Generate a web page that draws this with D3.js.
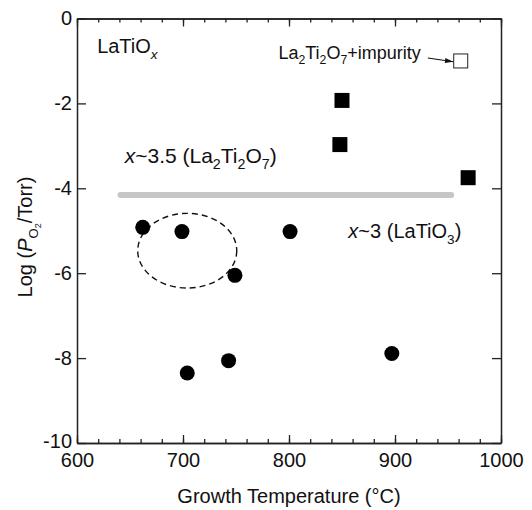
<!DOCTYPE html>
<html>
<head>
<meta charset="utf-8">
<script src="https://cdn.jsdelivr.net/npm/d3@7"></script>
<style>
  body { margin: 0; background: #fff; }
  text { font-family: "Liberation Sans", Arial, sans-serif; fill: #111; }
</style>
</head>
<body>
<div id="chart"></div>
<script>
// growth temperature (°C) and log(PO2/Torr)
const circleTemp = [662, 699, 801, 749, 897, 743, 704];
const circleLogP = [-4.92, -5.02, -5.02, -6.05, -7.89, -8.06, -8.35];
const squareTemp = [850, 848, 969];
const squareLogP = [-1.93, -2.97, -3.75];
const openTemp = [962];
const openLogP = [-1.0];

const xTicks = [600, 700, 800, 900, 1000];
const xMinorTicks = d3.range(600, 1001, 20);
const yTicks = [0, -2, -4, -6, -8, -10];

// boundary between x~3.5 and x~3
const boundaryTemp = [641, 953];
const boundaryLogP = [-4.16, -4.16];

// dashed ellipse: centre and half-axes
const ellipseCentre = [704, -5.47];
const ellipseHalf = [46.7, 0.88];

const w = 532;
const h = 510;
const margin = {top: 18.5, right: 31, bottom: 67, left: 77};

const svg = d3.select("#chart")
              .append("svg")
              .attr("width", w)
              .attr("height", h);

const xScale = d3.scaleLinear()
                 .domain([600, 1000])
                 .range([margin.left, w - margin.right]);

const yScale = d3.scaleLinear()
                 .domain([-10, 0])
                 .range([h - margin.bottom, margin.top]);

const fmt = d => String(d);

// axes, ticks pointing inward
function axisStyle(g) {
  g.selectAll("path.domain").attr("stroke", "#222").attr("stroke-width", 1.5);
  g.selectAll(".tick line").attr("stroke", "#222").attr("stroke-width", 1.3);
  g.selectAll(".tick text")
   .style("font-family", "'Liberation Sans', Arial, sans-serif")
   .attr("font-size", 20)
   .attr("fill", "#111");
}

svg.append("g")
   .attr("transform", `translate(0, ${h - margin.bottom})`)
   .call(d3.axisBottom(xScale).tickValues(xMinorTicks).tickSize(-4).tickSizeOuter(0).tickFormat(""))
   .call(axisStyle);

svg.append("g")
   .attr("id", "x-axis")
   .attr("transform", `translate(0, ${h - margin.bottom})`)
   .call(d3.axisBottom(xScale).tickValues(xTicks).tickSize(-8).tickSizeOuter(0).tickPadding(10).tickFormat(fmt))
   .call(axisStyle);

svg.append("g")
   .attr("transform", `translate(0, ${margin.top})`)
   .call(d3.axisTop(xScale).tickValues(xMinorTicks).tickSize(-4).tickSizeOuter(0).tickFormat(""))
   .call(axisStyle);

svg.append("g")
   .attr("transform", `translate(0, ${margin.top})`)
   .call(d3.axisTop(xScale).tickValues(xTicks).tickSize(-8).tickSizeOuter(0).tickFormat(""))
   .call(axisStyle);

svg.append("g")
   .attr("id", "y-axis")
   .attr("transform", `translate(${margin.left}, 0)`)
   .call(d3.axisLeft(yScale).tickValues(yTicks).tickSize(-9).tickSizeOuter(0).tickPadding(5).tickFormat(fmt))
   .call(axisStyle);

svg.append("g")
   .attr("transform", `translate(${w - margin.right}, 0)`)
   .call(d3.axisRight(yScale).tickValues(yTicks).tickSize(-9).tickSizeOuter(0).tickFormat(""))
   .call(axisStyle);

// "-10" sits a little above the corner so it clears "600"
svg.select("#y-axis").selectAll(".tick text")
   .filter(d => d === -10)
   .attr("dy", "0.2em");

// boundary band
svg.append("line")
   .attr("x1", xScale(boundaryTemp[0]))
   .attr("x2", xScale(boundaryTemp[1]))
   .attr("y1", yScale(boundaryLogP[0]))
   .attr("y2", yScale(boundaryLogP[1]))
   .attr("stroke", "#c6c6c6")
   .attr("stroke-width", 6)
   .attr("stroke-linecap", "round");

// dashed ellipse
svg.append("ellipse")
   .attr("cx", xScale(ellipseCentre[0]))
   .attr("cy", yScale(ellipseCentre[1]))
   .attr("rx", xScale(ellipseCentre[0] + ellipseHalf[0]) - xScale(ellipseCentre[0]))
   .attr("ry", yScale(ellipseCentre[1]) - yScale(ellipseCentre[1] + ellipseHalf[1]))
   .attr("fill", "none")
   .attr("stroke", "#111")
   .attr("stroke-width", 1.4)
   .attr("stroke-dasharray", "6,4");

// points
svg.selectAll("circle.pt")
   .data(d3.zip(circleTemp, circleLogP))
   .enter()
   .append("circle")
   .attr("class", "pt")
   .attr("cx", d => xScale(d[0]))
   .attr("cy", d => yScale(d[1]))
   .attr("r", 7.5)
   .attr("fill", "#000");

const sq = 15;
svg.selectAll("rect.sq")
   .data(d3.zip(squareTemp, squareLogP))
   .enter()
   .append("rect")
   .attr("class", "sq")
   .attr("x", d => xScale(d[0]) - sq / 2)
   .attr("y", d => yScale(d[1]) - sq / 2)
   .attr("width", sq)
   .attr("height", sq)
   .attr("fill", "#000");

const osq = 14;
svg.selectAll("rect.osq")
   .data(d3.zip(openTemp, openLogP))
   .enter()
   .append("rect")
   .attr("class", "osq")
   .attr("x", d => xScale(d[0]) - osq / 2)
   .attr("y", d => yScale(d[1]) - osq / 2)
   .attr("width", osq)
   .attr("height", osq)
   .attr("fill", "#fff")
   .attr("stroke", "#222")
   .attr("stroke-width", 1);

// arrow to the open square
svg.append("defs").append("marker")
   .attr("id", "arrow")
   .attr("viewBox", "0 0 10 6")
   .attr("refX", 10)
   .attr("refY", 3)
   .attr("markerWidth", 9)
   .attr("markerHeight", 5)
   .attr("markerUnits", "userSpaceOnUse")
   .attr("orient", "auto")
   .append("path")
   .attr("d", "M0,0L10,3L0,6Z")
   .attr("fill", "#111");

svg.append("line")
   .attr("x1", xScale(931))
   .attr("y1", yScale(-0.93))
   .attr("x2", xScale(955))
   .attr("y2", yScale(-1.02))
   .attr("stroke", "#111")
   .attr("stroke-width", 1.1)
   .attr("marker-end", "url(#arrow)");

// labels with subscripts
function label(x, y, parts, size) {
  const t = svg.append("text")
               .attr("x", xScale(x))
               .attr("y", yScale(y))
               .attr("font-size", size);
  parts.forEach(p => {
    const s = t.append("tspan").text(p.t);
    if (p.sub) s.attr("font-size", size * 0.68).attr("dy", size * 0.3);
    if (p.up) s.attr("dy", -size * 0.3);
    if (p.it) s.attr("font-style", "italic");
  });
  return t;
}

label(619, -0.81, [{t: "LaTiO"}, {t: "x", sub: true, it: true}], 20);

label(790, -0.95, [
  {t: "La"}, {t: "2", sub: true}, {t: "Ti", up: true}, {t: "2", sub: true},
  {t: "O", up: true}, {t: "7", sub: true}, {t: "+impurity", up: true}
], 18);

label(645, -3.4, [
  {t: "x", it: true}, {t: "~3.5 (La"}, {t: "2", sub: true}, {t: "Ti", up: true},
  {t: "2", sub: true}, {t: "O", up: true}, {t: "7", sub: true}, {t: ")", up: true}
], 21);

label(856, -5.17, [
  {t: "x", it: true}, {t: "~3 (LaTiO"}, {t: "3", sub: true}, {t: ")", up: true}
], 20);

// axis titles
svg.append("text")
   .attr("text-anchor", "middle")
   .attr("x", (margin.left + w - margin.right) / 2)
   .attr("y", 503)
   .attr("font-size", 20)
   .text("Growth Temperature (°C)");

const yl = svg.append("text")
              .attr("text-anchor", "middle")
              .attr("transform", `translate(32, 237) rotate(-90)`)
              .attr("font-size", 20);
yl.append("tspan").text("Log (");
yl.append("tspan").attr("font-style", "italic").text("P");
yl.append("tspan").attr("font-size", 13).attr("dy", 6).text("O");
yl.append("tspan").attr("font-size", 9).attr("dy", 3).text("2");
yl.append("tspan").attr("dy", -9).text("/Torr)");
</script>
</body>
</html>
